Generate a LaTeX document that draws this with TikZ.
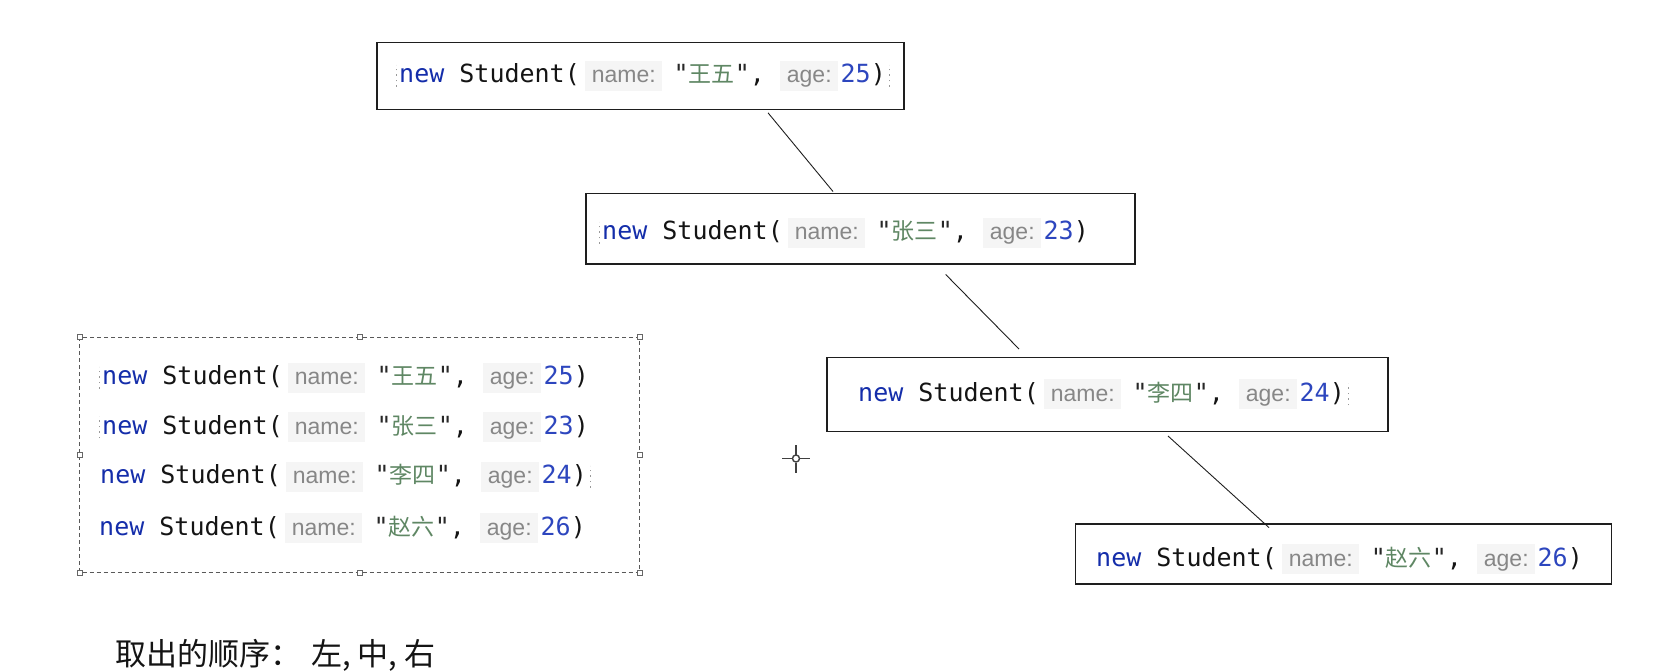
\documentclass[tikz,border=0pt]{standalone}
\usepackage{fontspec}
\setmonofont{DejaVu Sans Mono}
\newfontfamily\cjk{Noto Sans CJK SC}
\newfontfamily\hintfont{Liberation Sans}
\definecolor{kw}{RGB}{20,45,170}
\definecolor{txt}{RGB}{20,20,20}
\definecolor{hint}{RGB}{135,135,135}
\definecolor{hintbg}{RGB}{245,245,245}
\definecolor{strc}{RGB}{95,135,100}
\definecolor{strq}{RGB}{40,40,40}
\definecolor{num}{RGB}{45,70,190}
\definecolor{boxline}{RGB}{30,30,30}
\newcommand{\hintbox}[1]{{\setlength{\fboxsep}{0pt}\colorbox{hintbg}{\fontsize{23}{26}\hintfont\color{hint}\rule[-8pt]{0pt}{30pt}\hspace{7pt}#1\hspace{6pt}}}}
\newcommand{\jrow}[2]{{\color{kw}new} Student(\hspace{5pt}\hintbox{name:}\hspace{12pt}{\color{strq}"}{\fontsize{23}{26}\cjk\color{strc}#1}{\color{strq}"},\hspace{15pt}\hintbox{age:}\hspace{3pt}{\color{num}#2})}
\tikzset{
  codebox/.style={draw=boxline,line width=1.6pt,fill=white,inner sep=0pt},
  code/.style={anchor=west,inner sep=0pt,font=\fontsize{25}{29}\ttfamily,text=txt},
  link/.style={draw=boxline,line width=0.9pt},
  handle/.style={draw=gray!80!black,fill=white,line width=0.6pt,minimum size=5pt,inner sep=0pt},
  caret/.style={draw=gray!80,line width=0.9pt,dash pattern=on 1.5pt off 4pt},
}
\begin{document}
\begin{tikzpicture}[x=1pt,y=-1pt]
\useasboundingbox (0,0) rectangle (1668,671);
% boxes
\node[codebox,minimum width=527pt,minimum height=67pt] (b1) at (640.4,76) {};
\node[codebox,minimum width=549pt,minimum height=70pt] (b2) at (860.5,228.7) {};
\node[codebox,minimum width=561pt,minimum height=74pt] (b3) at (1107.5,394.6) {};
\node[codebox,minimum width=536pt,minimum height=60pt] (b4) at (1343.6,553.7) {};
\node[code] (t1) at (399,76) {\jrow{王五}{25}};
\node[code] (t2) at (602,233) {\jrow{张三}{23}};
\node[code] (t3) at (858,394) {\jrow{李四}{24}};
\node[code] (t4) at (1096,559) {\jrow{赵六}{26}};
% connectors
\coordinate (c1a) at (768,112.8);
\coordinate (c1b) at (833,191.5);
\coordinate (c2a) at (945.7,274.5);
\coordinate (c2b) at (1019,349);
\coordinate (c3a) at (1168,436);
\coordinate (c3b) at (1269,527.6);
\draw[link] (c1a) -- (c1b);
\draw[link] (c2a) -- (c2b);
\draw[link] (c3a) -- (c3b);
% dashed selection
\coordinate (s1) at (79.8,337.2);
\coordinate (s2) at (639.3,572.3);
\draw[gray!70!black,line width=0.8pt,dash pattern=on 4pt off 3pt] (s1) rectangle (s2);
\foreach \px/\py [count=\i] in {79.8/337.2,359.6/337.2,639.3/337.2,79.8/454.8,639.3/454.8,79.8/572.3,359.6/572.3,639.3/572.3}
  \node[handle] (h\i) at (\px,\py) {};
\node[code] (r1) at (102,377.5) {\jrow{王五}{25}};
\node[code] (r2) at (102,427) {\jrow{张三}{23}};
\node[code] (r3) at (100,476.5) {\jrow{李四}{24}};
\node[code] (r4) at (99,528) {\jrow{赵六}{26}};
% caret marks
\foreach \n/\a/\s in {t1/west/-3,t1/east/3,t2/west/-3,t3/east/3,r1/west/-3,r2/west/-3,r3/east/3}
  \draw[caret] ([xshift=\s pt,yshift=-11pt]\n.\a) -- ([xshift=\s pt,yshift=11pt]\n.\a);
% crosshair
\coordinate (x0) at (796,458.5);
\draw[line width=1.4pt,black!75] (x0) circle (3.5pt);
\draw[line width=1.6pt,black!75] ([xshift=-14pt]x0) -- ([xshift=-4pt]x0) ([xshift=4pt]x0) -- ([xshift=14pt]x0)
  ([yshift=-14pt]x0) -- ([yshift=-4pt]x0) ([yshift=4pt]x0) -- ([yshift=14pt]x0);
% caption
\node[anchor=west,inner sep=0pt,font=\fontsize{31}{35}\cjk,text=txt] (cap) at (115,655) {取出的顺序：\hspace{10pt}左, 中, 右};
\end{tikzpicture}
\end{document}
